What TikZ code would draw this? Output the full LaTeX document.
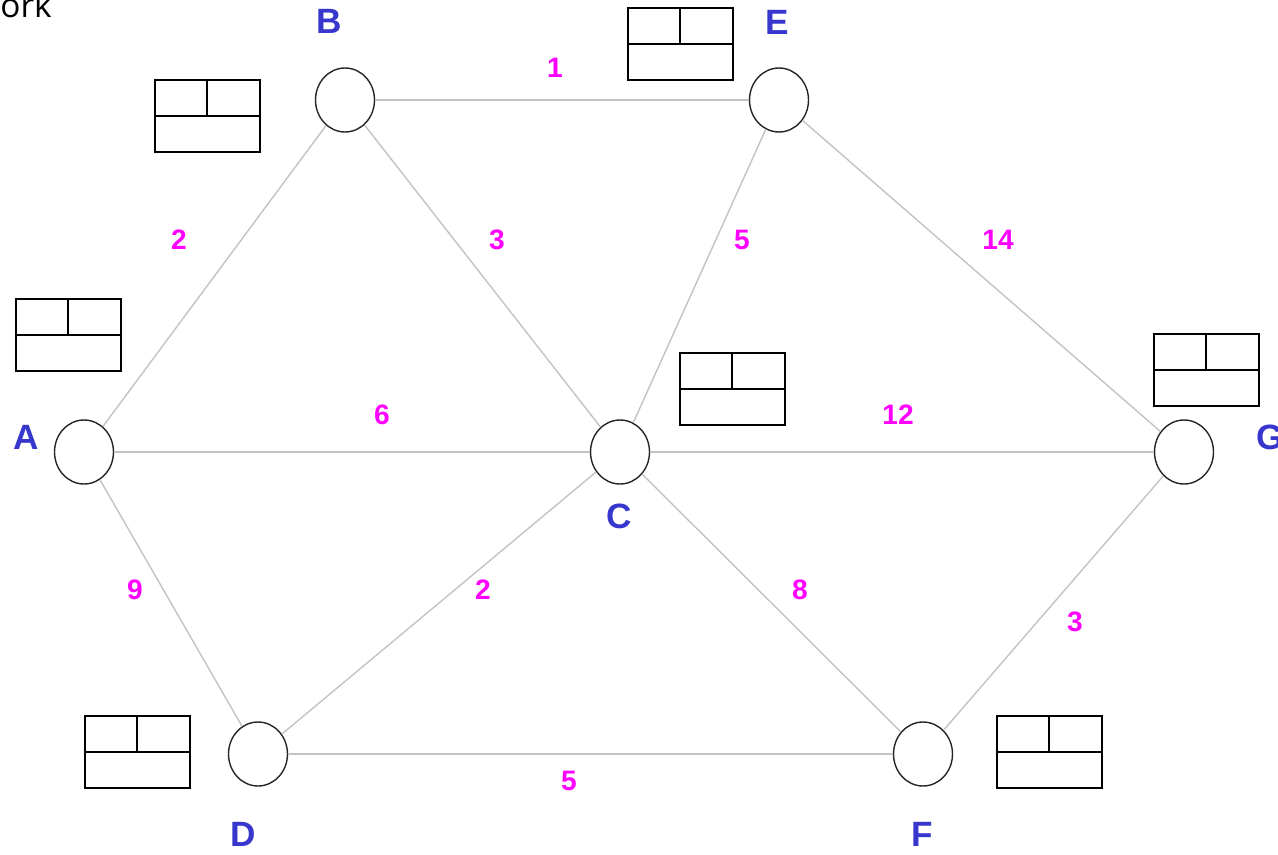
\documentclass[tikz,border=0pt]{standalone}
\usepackage{fontspec}
\setmainfont{Liberation Sans}
\newfontfamily\headfont{Open Sans}
\usetikzlibrary{shapes.geometric}
\definecolor{nodeblue}{RGB}{55,55,205}
\definecolor{costpink}{RGB}{255,0,255}
\definecolor{linkgray}{RGB}{195,195,195}
\tikzset{
  station/.style  = {ellipse, draw=black!85, line width=0.8pt, fill=white,
                     minimum width=1.18cm, minimum height=1.28cm, inner sep=0pt},
  link/.style     = {draw=linkgray, line width=0.8pt},
  vlabel/.style   = {font=\fontsize{20}{24}\selectfont\bfseries, text=nodeblue},
  cost/.style     = {font=\fontsize{16}{19}\selectfont\bfseries, text=costpink},
  tablebox/.style = {line width=1.1pt},
}
% empty table: corner given in pixel units, top row split in two
\newcommand{\labelbox}[2]{%
  \draw[tablebox] (#1,#2) rectangle ++(105,72);
  \draw[tablebox] (#1,#2+36) -- ++(105,0);
  \draw[tablebox] (#1+52,#2) -- ++(0,36);
}

\begin{document}
\begin{tikzpicture}[x=0.02cm,y=-0.02cm]
  \useasboundingbox (0,0) rectangle (1278,855);

  \node[anchor=base west,inner sep=0pt,font=\headfont\fontsize{19}{23}\selectfont] (title) at (0,18) {ork};

  % ---------------- vertices ---------------------------------------------
  \node[station] (A) at (84,452) {};
  \node[station] (B) at (345,100) {};
  \node[station] (E) at (779,100) {};
  \node[station] (C) at (620,452) {};
  \node[station] (G) at (1184,452) {};
  \node[station] (D) at (258,754) {};
  \node[station] (F) at (923,754) {};

  \node[vlabel] (lA) at (26,437) {A};
  \node[vlabel] (lB) at (329,21) {B};
  \node[vlabel] (lE) at (777,22) {E};
  \node[vlabel] (lC) at (619,516) {C};
  \node[vlabel] (lG) at (1270,437) {G};
  \node[vlabel] (lD) at (243,834) {D};
  \node[vlabel] (lF) at (922,834) {F};

  % ---------------- edges ------------------------------------------------
  \draw[link] (A) -- (B);
  \draw[link] (B) -- (E);
  \draw[link] (B) -- (C);
  \draw[link] (E) -- (C);
  \draw[link] (E) -- (G);
  \draw[link] (A) -- (C);
  \draw[link] (C) -- (G);
  \draw[link] (A) -- (D);
  \draw[link] (D) -- (C);
  \draw[link] (C) -- (F);
  \draw[link] (G) -- (F);
  \draw[link] (D) -- (F);

  % ---------------- weights ----------------------------------------------
  \node[cost] (wBE) at (555,68) {1};
  \node[cost] (wAB) at (179,240) {2};
  \node[cost] (wBC) at (497,240) {3};
  \node[cost] (wEC) at (742,240) {5};
  \node[cost] (wEG) at (998,240) {14};
  \node[cost] (wAC) at (382,415) {6};
  \node[cost] (wCG) at (898,415) {12};
  \node[cost] (wAD) at (135,590) {9};
  \node[cost] (wDC) at (483,590) {2};
  \node[cost] (wCF) at (800,590) {8};
  \node[cost] (wGF) at (1075,622) {3};
  \node[cost] (wDF) at (569,781) {5};

  % ---------------- tables -----------------------------------------------
  \labelbox{155}{80}
  \labelbox{628}{8}
  \labelbox{16}{299}
  \labelbox{680}{353}
  \labelbox{1154}{334}
  \labelbox{85}{716}
  \labelbox{997}{716}
\end{tikzpicture}
\end{document}
